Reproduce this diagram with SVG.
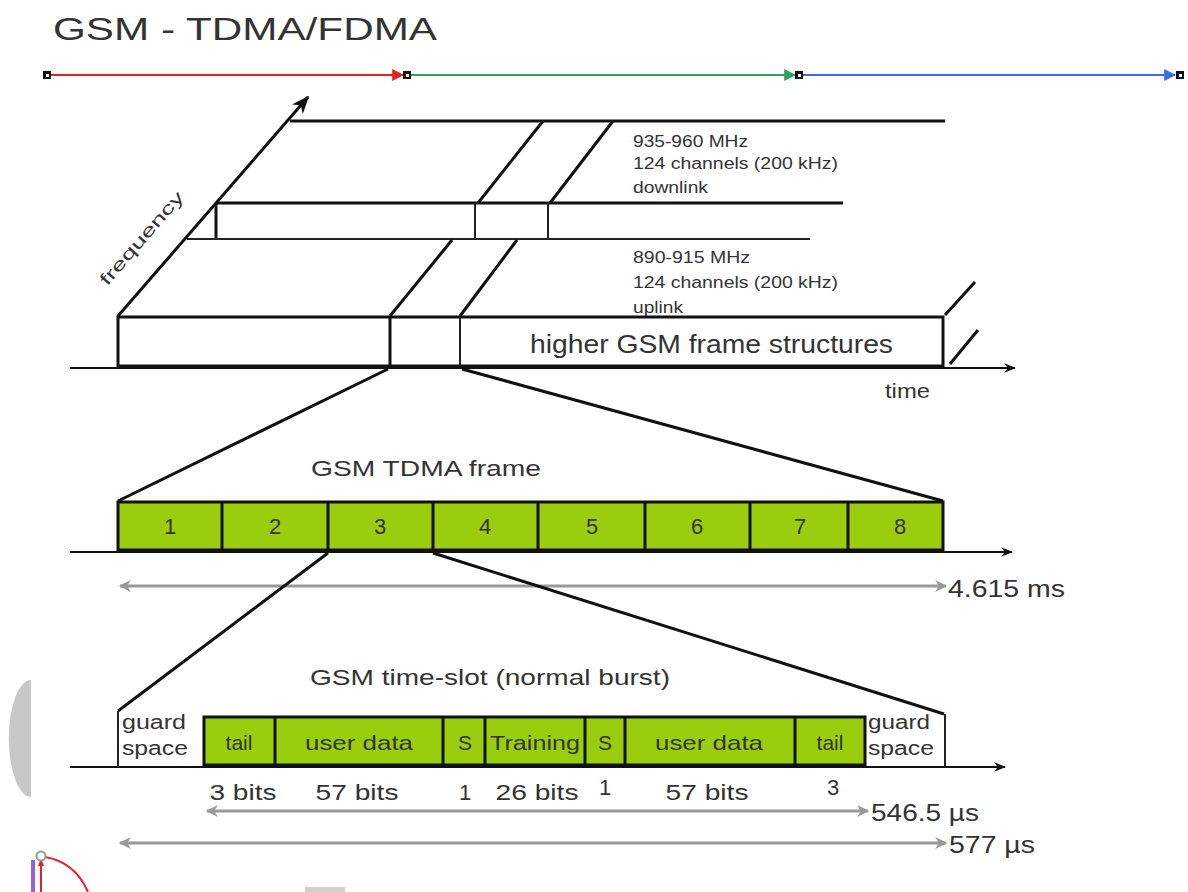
<svg xmlns="http://www.w3.org/2000/svg" width="1188" height="892" viewBox="0 0 1188 892">
<defs>
<style>
text{font-family:"Liberation Sans",Arial,sans-serif;fill:#333}
.k{stroke:#111;fill:none;stroke-width:3}
.t{stroke:#222;fill:none;stroke-width:2}
.ax{stroke:#111;fill:none;stroke-width:2;marker-end:url(#ah)}
.g{fill:#9acd0e;stroke:#111;stroke-width:3}
.dim{stroke:#999;stroke-width:3;fill:none;marker-start:url(#gh);marker-end:url(#gh)}
.sm{font-size:16px}
.lb{font-size:22px}
.c{text-anchor:middle}
</style>
<marker id="ah" viewBox="0 0 10 10" refX="9" refY="5" markerWidth="6" markerHeight="6" orient="auto" markerUnits="strokeWidth"><path d="M0,1 L10,5 L0,9 L3,5 Z" fill="#111"/></marker>
<marker id="gh" viewBox="0 0 10 10" refX="9" refY="5" markerWidth="5" markerHeight="4" orient="auto-start-reverse" markerUnits="strokeWidth"><path d="M0,0 L10,5 L0,10 L3,5 Z" fill="#999"/></marker>
<marker id="ar" viewBox="0 0 10 10" refX="9" refY="5" markerWidth="6" markerHeight="6" orient="auto" markerUnits="strokeWidth"><path d="M0,0 L10,5 L0,10 Z" fill="#e52222"/></marker>
<marker id="ag" viewBox="0 0 10 10" refX="9" refY="5" markerWidth="6" markerHeight="6" orient="auto" markerUnits="strokeWidth"><path d="M0,0 L10,5 L0,10 Z" fill="#2fa060"/></marker>
<marker id="ab" viewBox="0 0 10 10" refX="9" refY="5" markerWidth="6" markerHeight="6" orient="auto" markerUnits="strokeWidth"><path d="M0,0 L10,5 L0,10 Z" fill="#3a6ee8"/></marker>
<g id="hnd"><rect x="-4" y="-4" width="8" height="8" fill="#111"/><rect x="-1" y="-1" width="3" height="3" fill="#fff"/></g>
</defs>
<rect width="1188" height="892" fill="#fff"/>

<text id="title" x="53" y="40" font-size="32" textLength="384" lengthAdjust="spacingAndGlyphs">GSM - TDMA/FDMA</text>

<g id="topbar">
<line x1="47" y1="75" x2="403" y2="75" stroke="#e52222" stroke-width="2" marker-end="url(#ar)"/>
<line x1="407" y1="75" x2="795" y2="75" stroke="#2fa060" stroke-width="2" marker-end="url(#ag)"/>
<line x1="799" y1="75" x2="1175" y2="75" stroke="#3a6ee8" stroke-width="2" marker-end="url(#ab)"/>
<use href="#hnd" x="47" y="75"/><use href="#hnd" x="407" y="75"/><use href="#hnd" x="799" y="75"/><use href="#hnd" x="1180" y="75"/>
</g>

<g id="fdma">
<line class="k" x1="118" y1="316" x2="308" y2="97" marker-end="url(#ah)"/>
<text transform="translate(146,242) rotate(-49)" text-anchor="middle" font-size="17" textLength="118" lengthAdjust="spacingAndGlyphs">frequency</text>
<line class="k" x1="290" y1="121" x2="945" y2="121"/>
<line class="k" x1="478" y1="203" x2="543" y2="121"/>
<line class="k" x1="550" y1="203" x2="613" y2="121"/>
<line class="k" x1="216" y1="203" x2="843" y2="203"/>
<line class="k" x1="216" y1="203" x2="216" y2="240"/>
<line class="t" x1="475" y1="203" x2="475" y2="239"/>
<line class="t" x1="548" y1="203" x2="548" y2="239"/>
<line class="t" x1="187" y1="239" x2="810" y2="239"/>
<line class="k" x1="390" y1="316" x2="452" y2="240"/>
<line class="k" x1="460" y1="316" x2="517" y2="240"/>
<text class="sm" x="633" y="147" textLength="115" lengthAdjust="spacingAndGlyphs">935-960 MHz</text>
<text class="sm" x="633" y="169" textLength="205" lengthAdjust="spacingAndGlyphs">124 channels (200 kHz)</text>
<text class="sm" x="633" y="193" textLength="75" lengthAdjust="spacingAndGlyphs">downlink</text>
<text class="sm" x="633" y="263" textLength="117" lengthAdjust="spacingAndGlyphs">890-915 MHz</text>
<text class="sm" x="633" y="288" textLength="205" lengthAdjust="spacingAndGlyphs">124 channels (200 kHz)</text>
<text class="sm" x="633" y="313" textLength="50" lengthAdjust="spacingAndGlyphs">uplink</text>
</g>

<g id="higher">
<rect class="k" x="118" y="317" width="825" height="49" fill="#fff"/>
<line class="k" x1="390" y1="317" x2="390" y2="366"/>
<line class="t" x1="460" y1="317" x2="460" y2="366"/>
<text x="530" y="353" font-size="26" textLength="363" lengthAdjust="spacingAndGlyphs">higher GSM frame structures</text>
<line class="k" x1="945" y1="315" x2="975" y2="282"/>
<line class="k" x1="950" y1="364" x2="978" y2="330"/>
<line class="ax" x1="70" y1="368" x2="1015" y2="368"/>
<text x="885" y="398" font-size="20" textLength="45" lengthAdjust="spacingAndGlyphs">time</text>
</g>

<g id="zoom1">
<line class="k" x1="388" y1="369" x2="118" y2="501"/>
<line class="k" x1="462" y1="369" x2="943" y2="501"/>
</g>

<g id="tdma">
<text class="lb c" x="426" y="476" textLength="230" lengthAdjust="spacingAndGlyphs">GSM TDMA frame</text>
<rect class="g" x="118" y="502" width="825" height="48"/>
<path class="k" d="M222,502V550M328,502V550M433,502V550M538,502V550M645,502V550M750,502V550M848,502V550"/>
<g class="lb c">
<text x="170" y="534">1</text><text x="275" y="534">2</text><text x="380" y="534">3</text><text x="485" y="534">4</text>
<text x="592" y="534">5</text><text x="697" y="534">6</text><text x="800" y="534">7</text><text x="900" y="534">8</text>
</g>
<line class="ax" x1="70" y1="552" x2="1012" y2="552"/>
<line class="dim" x1="120" y1="586" x2="946" y2="586"/>
<text x="948" y="597" font-size="24" textLength="117" lengthAdjust="spacingAndGlyphs">4.615 ms</text>
</g>

<g id="zoom2">
<line class="k" x1="328" y1="553" x2="118" y2="711"/>
<line class="k" x1="433" y1="553" x2="944" y2="714"/>
</g>

<g id="burst">
<text class="lb c" x="490" y="685" textLength="360" lengthAdjust="spacingAndGlyphs">GSM time-slot (normal burst)</text>
<line class="t" x1="118" y1="711" x2="118" y2="767"/>
<line class="t" x1="945" y1="714" x2="945" y2="767"/>
<text x="122" y="729" font-size="20" textLength="64" lengthAdjust="spacingAndGlyphs">guard</text>
<text x="122" y="755" font-size="20" textLength="66" lengthAdjust="spacingAndGlyphs">space</text>
<text x="868" y="729" font-size="20" textLength="62" lengthAdjust="spacingAndGlyphs">guard</text>
<text x="868" y="755" font-size="20" textLength="66" lengthAdjust="spacingAndGlyphs">space</text>
<rect class="g" x="204" y="717" width="661" height="48"/>
<path class="k" d="M275,717V765M443,717V765M485,717V765M585,717V765M625,717V765M795,717V765"/>
<g font-size="21" class="c">
<text x="239" y="750">tail</text>
<text x="359" y="750" textLength="108" lengthAdjust="spacingAndGlyphs">user data</text>
<text x="465" y="750">S</text>
<text x="535" y="750" textLength="90" lengthAdjust="spacingAndGlyphs">Training</text>
<text x="605" y="750">S</text>
<text x="709" y="750" textLength="108" lengthAdjust="spacingAndGlyphs">user data</text>
<text x="830" y="750">tail</text>
</g>
<line class="ax" x1="70" y1="767" x2="1005" y2="767"/>
<g class="lb c" font-size="23">
<text x="243" y="800" textLength="67" lengthAdjust="spacingAndGlyphs">3 bits</text>
<text x="357" y="800" textLength="83" lengthAdjust="spacingAndGlyphs">57 bits</text>
<text x="465" y="800">1</text>
<text x="537" y="800" textLength="83" lengthAdjust="spacingAndGlyphs">26 bits</text>
<text x="605" y="795">1</text>
<text x="707" y="800" textLength="83" lengthAdjust="spacingAndGlyphs">57 bits</text>
<text x="833" y="795">3</text>
</g>
<line class="dim" x1="207" y1="811" x2="868" y2="811"/>
<text x="871" y="821" font-size="24" textLength="108" lengthAdjust="spacingAndGlyphs">546.5 µs</text>
<line class="dim" x1="120" y1="843" x2="946" y2="843"/>
<text x="949" y="853" font-size="24" textLength="86" lengthAdjust="spacingAndGlyphs">577 µs</text>
</g>

<g id="artifacts">
<path d="M31,680 A22,58 0 0 0 31,797 Z" fill="#c8c8c8"/>
<rect x="31" y="860" width="4" height="32" fill="#9a5ce0"/>
<line x1="41" y1="892" x2="41" y2="864" stroke="#e52222" stroke-width="2"/>
<path d="M41,858 L38,866 L44,866 Z" fill="#e52222"/>
<path d="M45,857 Q75,862 88,892" stroke="#e52222" stroke-width="2" fill="none"/>
<circle cx="41" cy="856" r="4.5" fill="#fff" stroke="#999" stroke-width="2"/>
<rect x="305" y="887" width="40" height="5" fill="#d0d0d0"/>
</g>
</svg>
